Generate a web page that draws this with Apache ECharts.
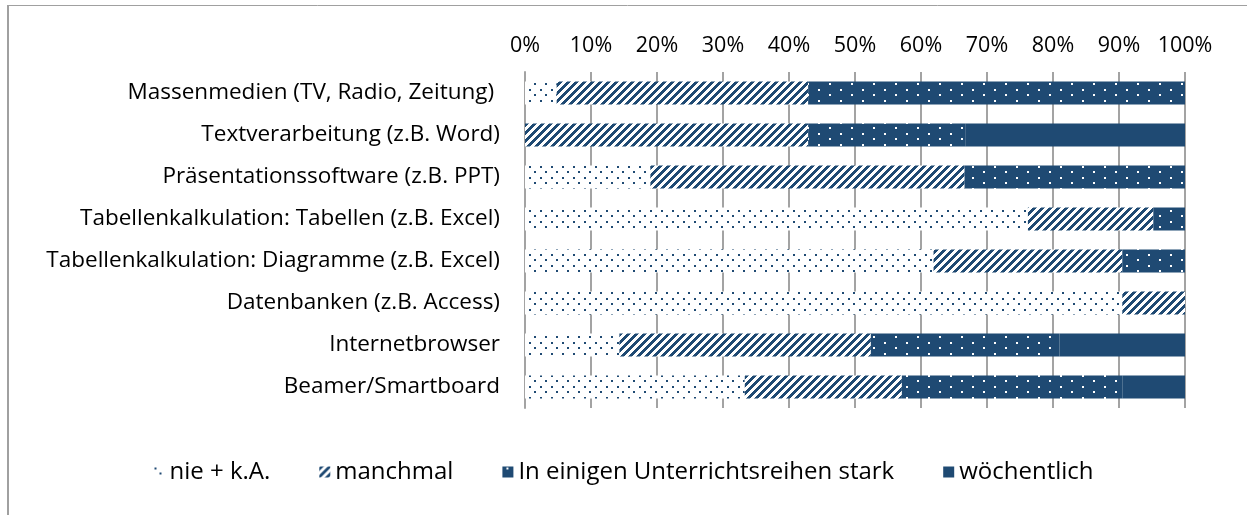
<!DOCTYPE html>
<html>
<head>
<meta charset="utf-8">
<script src="https://cdn.jsdelivr.net/npm/echarts@6/dist/echarts.min.js"></script>
<style>
  html, body { margin: 0; padding: 0; background: #fff; }
  #chart { width: 1247px; height: 515px; }
</style>
</head>
<body>
<div id="chart"></div>
<script>
// Kategorien (von oben nach unten)
const categories = [
  'Massenmedien (TV, Radio, Zeitung) ',
  'Textverarbeitung (z.B. Word)',
  'Präsentationssoftware (z.B. PPT)',
  'Tabellenkalkulation: Tabellen (z.B. Excel)',
  'Tabellenkalkulation: Diagramme (z.B. Excel)',
  'Datenbanken (z.B. Access)',
  'Internetbrowser',
  'Beamer/Smartboard'
]
const seriesNames = ['nie + k.A.', 'manchmal', 'In einigen Unterrichtsreihen stark', 'wöchentlich']
// Anteile in %
const nieKA = [4.8, 0, 19.0, 76.2, 61.9, 90.5, 14.3, 33.3]
const manchmal = [38.1, 42.9, 47.6, 19.0, 28.6, 9.5, 38.1, 23.8]
const stark = [57.1, 23.8, 33.4, 4.8, 9.5, 0, 28.6, 33.4]
const woechentlich = [0, 33.3, 0, 0, 0, 0, 19.0, 9.5]
const tickLabels = ['0%', '10%', '20%', '30%', '40%', '50%', '60%', '70%', '80%', '90%', '100%']

const NAVY = '#1F4A73'
const FONT = '"Open Sans", sans-serif'

// Musterkachel auf einem Canvas zeichnen
const makeTile = (w, h, bg, fg, paint) => {
  const c = document.createElement('canvas')
  c.width = w
  c.height = h
  const ctx = c.getContext('2d')
  ctx.fillStyle = bg
  ctx.fillRect(0, 0, w, h)
  ctx.fillStyle = fg
  paint(ctx)
  return { image: c, repeat: 'repeat' }
}
// weiß mit blauen Punkten
const dotsLight = makeTile(11, 11, '#ffffff', NAVY, (ctx) => {
  ctx.fillRect(1, 1, 2, 2)
  ctx.fillRect(6, 6, 2, 2)
})
// schräge Streifen "/"
const hatch = makeTile(8, 8, '#ffffff', NAVY, (ctx) => {
  for (let x = 0; x < 8; x++) {
    for (let y = 0; y < 8; y++) {
      if ((x + y) % 8 < 4) ctx.fillRect(x, y, 1, 1)
    }
  }
})
// blau mit weißen Punkten
const dotsDark = makeTile(22, 11, NAVY, '#ffffff', (ctx) => {
  ctx.fillRect(4, 1, 2, 2)
  ctx.fillRect(15, 6, 2, 2)
})

const chart = echarts.init(document.getElementById('chart'), null, { renderer: 'canvas' })

const mk = (name, data, color) => ({
  name,
  type: 'bar',
  stack: 'total',
  data,
  barWidth: 23,
  itemStyle: { color },
  emphasis: { disabled: true }
})

chart.setOption({
  animation: false,
  graphic: [
    { type: 'line', shape: { x1: 8, y1: 5, x2: 8, y2: 515 }, style: { stroke: '#A0A0A0', lineWidth: 2 } },
    { type: 'line', shape: { x1: 8, y1: 5.5, x2: 1247, y2: 5.5 }, style: { stroke: '#A0A0A0', lineWidth: 1 } }
  ],
  legend: {
    top: 455,
    left: 'center',
    itemWidth: 11,
    itemHeight: 11,
    itemGap: 49,
    icon: 'rect',
    textStyle: { fontFamily: FONT, fontSize: 24, color: '#000' },
    data: seriesNames
  },
  grid: { left: 525, right: 62, top: 72, bottom: 107 },
  xAxis: {
    type: 'value',
    position: 'top',
    min: 0,
    max: 100,
    interval: 10,
    axisLine: { show: false },
    axisTick: { show: false },
    axisLabel: {
      margin: 15,
      fontFamily: FONT,
      fontSize: 21.5,
      color: '#000',
      formatter: (v) => tickLabels[Math.round(v / 10)]
    },
    splitLine: { lineStyle: { color: '#A3A3A3', width: 2 } }
  },
  yAxis: {
    type: 'category',
    inverse: true,
    data: categories,
    axisLine: { lineStyle: { color: '#A3A3A3', width: 2 } },
    axisTick: { show: false },
    axisLabel: { margin: 25, fontFamily: FONT, fontSize: 22.5, color: '#000' }
  },
  series: [
    mk(seriesNames[0], nieKA, dotsLight),
    mk(seriesNames[1], manchmal, hatch),
    mk(seriesNames[2], stark, dotsDark),
    mk(seriesNames[3], woechentlich, NAVY)
  ]
})
</script>
</body>
</html>
